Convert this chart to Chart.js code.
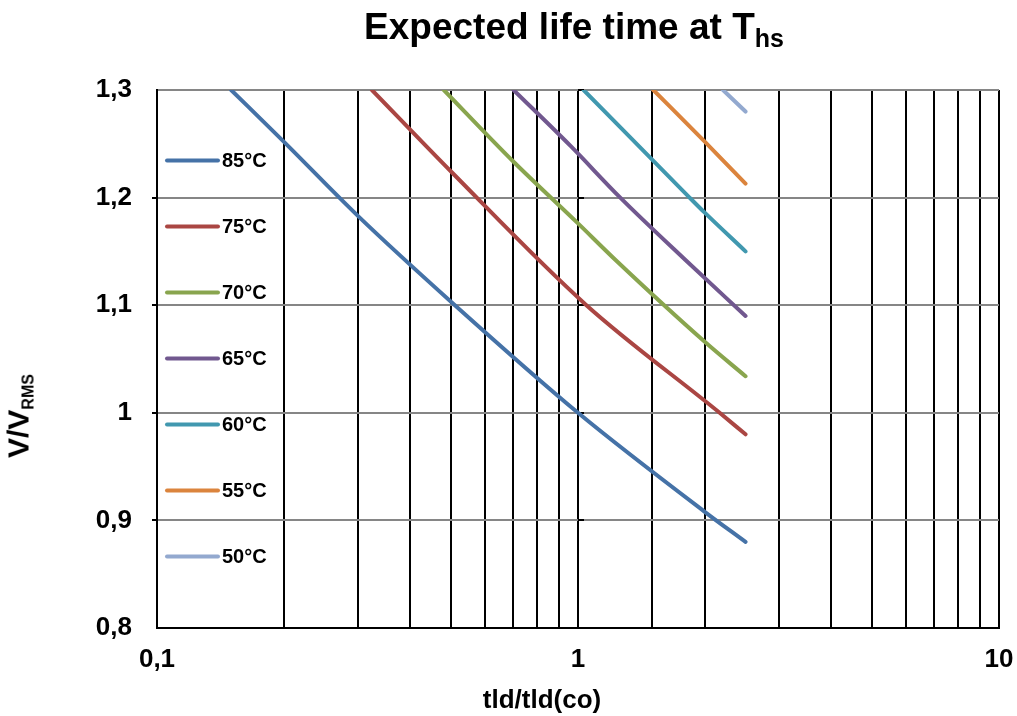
<!DOCTYPE html>
<html>
<head>
<meta charset="utf-8">
<script src="https://cdn.jsdelivr.net/npm/chart.js@4/dist/chart.umd.min.js"></script>
<style>
  html, body { margin: 0; padding: 0; background: #fff; }
  #wrap { position: relative; width: 1017px; height: 716px; font-family: "Liberation Sans", Arial, sans-serif; color: #000; }
  #wrap canvas { position: absolute; left: 0; top: 0; }
  .lbl { position: absolute; font-weight: bold; white-space: nowrap; }
  #title { left: 274px; width: 600px; top: 8px; text-align: center; font-size: 37px; line-height: 37px; }
  #title span { font-size: 25px; position: relative; top: 8px; }
  #ytitle { left: 21px; top: 416px; font-size: 30px; line-height: 30px; transform: translate(-50%, -50%) rotate(-90deg); }
  #ytitle span { font-size: 16px; position: relative; top: 5px; }
  #xtitle { left: 342px; width: 400px; top: 686px; text-align: center; font-size: 26px; line-height: 26px; }
</style>
</head>
<body>
<div id="wrap">
  <canvas id="c" width="1017" height="716"></canvas>
  <div class="lbl" id="title">Expected life time at T<span>hs</span></div>
  <div class="lbl" id="ytitle">V/V<span>RMS</span></div>
  <div class="lbl" id="xtitle">tld/tld(co)</div>
</div>
<script>
// ---- data ----
const seriesLabels = ['85°C', '75°C', '70°C', '65°C', '60°C', '55°C', '50°C'];
const seriesColors = ['#4572A7', '#AA4643', '#89A54E', '#71588F', '#4198AF', '#DB843D', '#93A9CF'];

const t85X = [0.15, 0.2, 0.3, 0.5, 1.0, 2.0, 2.5];
const t85Y = [1.300, 1.252, 1.183, 1.103, 1.000, 0.908, 0.880];

const t75X = [0.324, 0.5, 1.047, 2.17, 2.5];
const t75Y = [1.300, 1.224, 1.100, 1.000, 0.980];

const t70X = [0.48, 0.7, 1.0, 1.228, 2.0, 2.5];
const t70Y = [1.300, 1.234, 1.176, 1.142, 1.066, 1.034];

const t65X = [0.703, 0.96, 1.26, 1.8, 2.5];
const t65Y = [1.300, 1.248, 1.200, 1.142, 1.090];

const t60X = [1.031, 1.841, 2.0, 2.5];
const t60Y = [1.300, 1.200, 1.186, 1.150];

const t55X = [1.51, 2.0, 2.5];
const t55Y = [1.300, 1.252, 1.213];

const t50X = [2.21, 2.5];
const t50Y = [1.300, 1.280];

const xTickValues = [0.1, 1, 10];
const xTickLabels = ['0,1', '1', '10'];
const yTickValues = [0.8, 0.9, 1.0, 1.1, 1.2, 1.3];
const yTickLabels = ['0,8', '0,9', '1', '1,1', '1,2', '1,3'];

const seriesX = [t85X, t75X, t70X, t65X, t60X, t55X, t50X];
const seriesY = [t85Y, t75Y, t70Y, t65Y, t60Y, t55Y, t50Y];

// ---- build chart ----
const FONT = '"Liberation Sans", Arial, sans-serif';
function pts(xs, ys) { return xs.map((x, i) => ({ x: x, y: ys[i] })); }
function labelFor(v, vals, labs) {
  for (let i = 0; i < vals.length; i++) if (Math.abs(v - vals[i]) < 1e-9 * Math.max(1, vals[i])) return labs[i];
  return '';
}

const datasets = seriesLabels.map((lab, i) => ({
  label: lab,
  data: pts(seriesX[i], seriesY[i]),
  borderColor: seriesColors[i],
  backgroundColor: seriesColors[i],
  borderWidth: 4,
  borderCapStyle: 'round',
  borderJoinStyle: 'round',
  showLine: true,
  pointRadius: 0,
  cubicInterpolationMode: 'monotone',
  xAxisID: 'x',
  yAxisID: 'y'
}));

const insideLegend = {
  id: 'insideLegend',
  afterDatasetsDraw(chart) {
    const { ctx, chartArea } = chart;
    ctx.save();
    chart.data.datasets.forEach((ds, i) => {
      const y = chartArea.top + 70.5 + i * 66;
      const x0 = chartArea.left + 10, x1 = chartArea.left + 61;
      ctx.strokeStyle = ds.borderColor;
      ctx.lineWidth = 4;
      ctx.lineCap = 'round';
      ctx.beginPath(); ctx.moveTo(x0, y); ctx.lineTo(x1, y); ctx.stroke();
      ctx.fillStyle = '#000';
      ctx.font = 'bold 20px ' + FONT;
      ctx.textBaseline = 'middle';
      ctx.textAlign = 'left';
      ctx.fillText(ds.label, x1 + 4, y + 1);
    });
    ctx.restore();
  }
};

new Chart(document.getElementById('c'), {
  type: 'scatter',
  data: { datasets: datasets },
  plugins: [insideLegend],
  options: {
    responsive: false,
    animation: false,
    events: [],
    layout: { padding: { top: 90, right: 18, left: 0, bottom: 0 } },
    plugins: { legend: { display: false }, tooltip: { enabled: false }, title: { display: false } },
    scales: {
      x: {
        type: 'logarithmic',
        position: 'bottom',
        min: 0.1,
        max: 10,
        afterFit(s) { s.height = 88; s.paddingLeft = 0; s.paddingRight = 0; },
        grid: { color: '#000', lineWidth: 2, drawTicks: false },
        border: { color: '#000', width: 2 },
        ticks: {
          autoSkip: false,
          maxRotation: 0,
          padding: 16,
          color: '#000',
          font: { family: FONT, size: 26, weight: 'bold' },
          callback: (v) => labelFor(v, xTickValues, xTickLabels)
        }
      },
      y: {
        type: 'linear',
        position: 'left',
        min: 0.8,
        max: 1.3,
        afterFit(s) { s.width = 157; s.paddingTop = 0; s.paddingBottom = 0; },
        grid: {
          color: (c) => (c.tick && Math.abs(c.tick.value - 0.8) < 1e-6) ? '#000' : '#868686',
          tickColor: (c) => (c.tick && (Math.abs(c.tick.value - 0.8) < 1e-6 || Math.abs(c.tick.value - 1.3) < 1e-6)) ? 'rgba(0,0,0,0)' : '#000',
          lineWidth: 2,
          tickLength: 5
        },
        border: { color: '#000', width: 2 },
        ticks: {
          stepSize: 0.1,
          padding: 20,
          color: '#000',
          font: { family: FONT, size: 26, weight: 'bold' },
          callback: (v) => labelFor(v, yTickValues, yTickLabels)
        }
      },
      yMid: {
        type: 'linear',
        position: { x: 1 },
        min: 0.8,
        max: 1.3,
        grid: { drawOnChartArea: false, color: '#000', lineWidth: 2, tickLength: -6 },
        border: { display: false },
        ticks: { display: false, stepSize: 0.1 }
      }
    }
  }
});
</script>
</body>
</html>
